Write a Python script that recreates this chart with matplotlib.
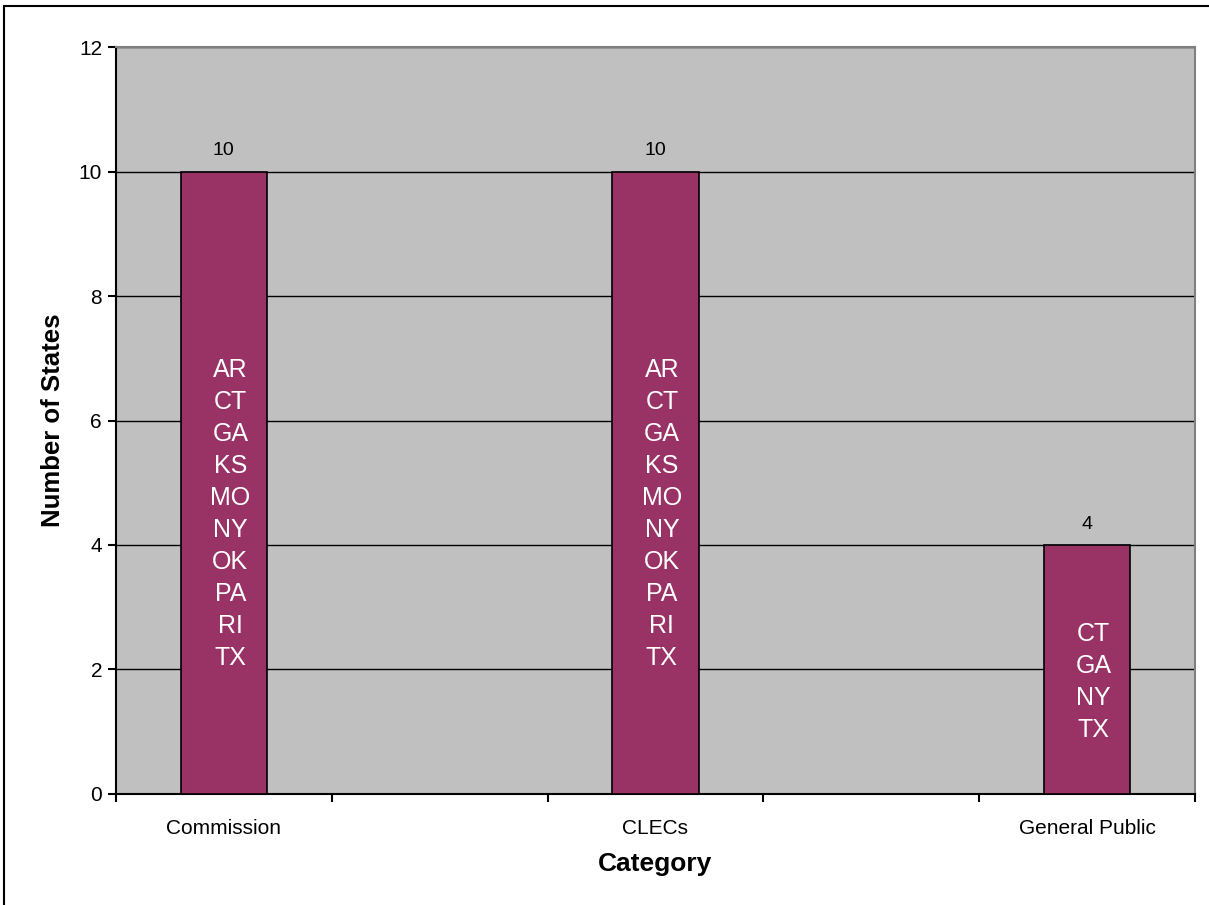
import matplotlib.pyplot as plt
from matplotlib.patches import Rectangle

plt.rcParams['font.family'] = ['Liberation Sans', 'DejaVu Sans']

# 5 slots on the axis, bars only in slot 0, 2, 4
slots = [0, 2, 4]
categories = ['Commission', 'CLECs', 'General Public']
counts = [10, 10, 4]
states = [
    ['AR', 'CT', 'GA', 'KS', 'MO', 'NY', 'OK', 'PA', 'RI', 'TX'],
    ['AR', 'CT', 'GA', 'KS', 'MO', 'NY', 'OK', 'PA', 'RI', 'TX'],
    ['CT', 'GA', 'NY', 'TX'],
]
yticks = [0, 2, 4, 6, 8, 10, 12]

fig = plt.figure(figsize=(12.09, 9.05), dpi=100)
ax = fig.add_axes([0.0959, 0.1227, 0.8925, 0.8253])
ax.set_facecolor('#C0C0C0')

# outer frame of the chart (only top/left show in the reference)
fig.patches.append(Rectangle((0.0035, -0.05), 1.2, 0.9985 - 0.005 + 0.05,
                             transform=fig.transFigure, fill=False,
                             edgecolor='black', linewidth=1.5))

bars = ax.bar(slots, counts, width=0.4, color='#993366',
              edgecolor='black', linewidth=1.2, zorder=3)

for x, v, st in zip(slots, counts, states):
    ax.text(x, v + 0.2, str(v), ha='center', va='bottom', fontsize=14)
    ax.text(x + 0.03, v * 0.45, '\n'.join(st), ha='center', va='center',
            color='white', fontsize=18, linespacing=1.42, zorder=4)

ax.set_xlim(-0.5, 4.5)
ax.set_ylim(0, 12)
ax.set_yticks(yticks)
ax.yaxis.grid(True, color='black', linewidth=1.0, zorder=1)
ax.set_axisbelow(True)

ax.set_xticks([-0.5, 0.5, 1.5, 2.5, 3.5, 4.5])
ax.set_xticklabels([])
ax.set_xticks(slots, minor=True)
ax.set_xticklabels(categories, minor=True)
ax.tick_params(axis='x', which='minor', length=0, pad=18, labelsize=15)
ax.tick_params(axis='x', which='major', length=6, width=1.5, direction='out')
ax.tick_params(axis='y', length=6, width=1.5, labelsize=15, pad=4)

for s in ['left', 'bottom']:
    ax.spines[s].set_linewidth(1.5)
    ax.spines[s].set_color('black')
for s in ['top', 'right']:
    ax.spines[s].set_linewidth(1.5)
    ax.spines[s].set_color('#808080')

ax.set_ylabel('Number of States', fontsize=18.5, fontweight='bold', labelpad=10)
ax.set_xlabel('Category', fontsize=19, fontweight='bold', labelpad=10)

fig.savefig('out.png', dpi=100)
